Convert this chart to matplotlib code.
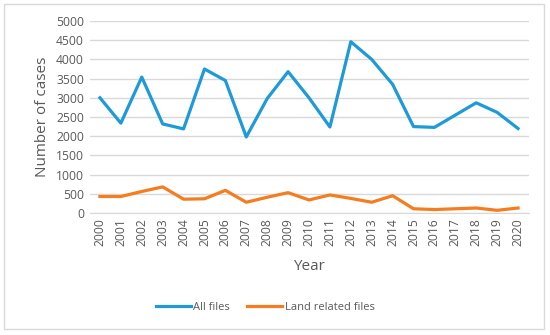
import matplotlib as mpl
import matplotlib.pyplot as plt
from matplotlib.patches import Rectangle
import numpy as np

years = [str(y) for y in range(2000, 2021)]
all_files = [3000, 2340, 3540, 2320, 2190, 3750, 3450, 1980, 2980, 3680,
             3000, 2240, 4460, 4000, 3350, 2250, 2230, 2550, 2870, 2620, 2200]
land_files = [430, 430, 560, 680, 360, 370, 590, 280, 410, 530,
              340, 470, 380, 280, 450, 110, 90, 110, 130, 70, 130]

blue = "#1f9ad8"
orange = "#f57c1f"
text_gray = "#595959"

plt.rcParams['font.family'] = ['Open Sans', 'DejaVu Sans']

W, H = 550, 335
fig = plt.figure(figsize=(W / 100, H / 100), dpi=100)
fig.patch.set_facecolor("white")

# outer chart border
fig.patches.append(Rectangle((4 / W, 6 / H), 540 / W, 325 / H, transform=fig.transFigure,
                             fill=False, edgecolor="#d9d9d9", linewidth=1))

ax = fig.add_axes([89.5 / W, 1 - 213 / H, 439 / W, 192 / H])
x = np.arange(len(years))
ax.plot(x, all_files, color=blue, linewidth=2.3, label="All files", solid_joinstyle="round")
ax.plot(x, land_files, color=orange, linewidth=2.3, label="Land related files", solid_joinstyle="round")

ax.set_xlim(-0.5, len(years) - 0.5)
ax.set_ylim(0, 5000)
ax.set_yticks(np.arange(0, 5001, 500))
ax.set_xticks(x)
ax.set_xticklabels(years, rotation=90)
ax.yaxis.grid(True, color="#d9d9d9", linewidth=1)
ax.set_axisbelow(True)
for s in ax.spines.values():
    s.set_visible(False)
ax.spines['bottom'].set_visible(True)
ax.spines['bottom'].set_color("#d9d9d9")
ax.tick_params(length=0, labelsize=8.7, colors=text_gray, pad=4)

ax.set_ylabel("Number of cases", fontsize=11, color=text_gray, labelpad=4)
ax.set_xlabel("Year", fontsize=11, color=text_gray, labelpad=9)

fig.legend(loc="center", bbox_to_anchor=(265 / W, 1 - 307 / H), ncol=2, frameon=False,
           fontsize=8, labelcolor=text_gray, handlelength=3.2, handletextpad=0.2,
           columnspacing=1.5)

fig.savefig("out.png", dpi=100, facecolor="white")
